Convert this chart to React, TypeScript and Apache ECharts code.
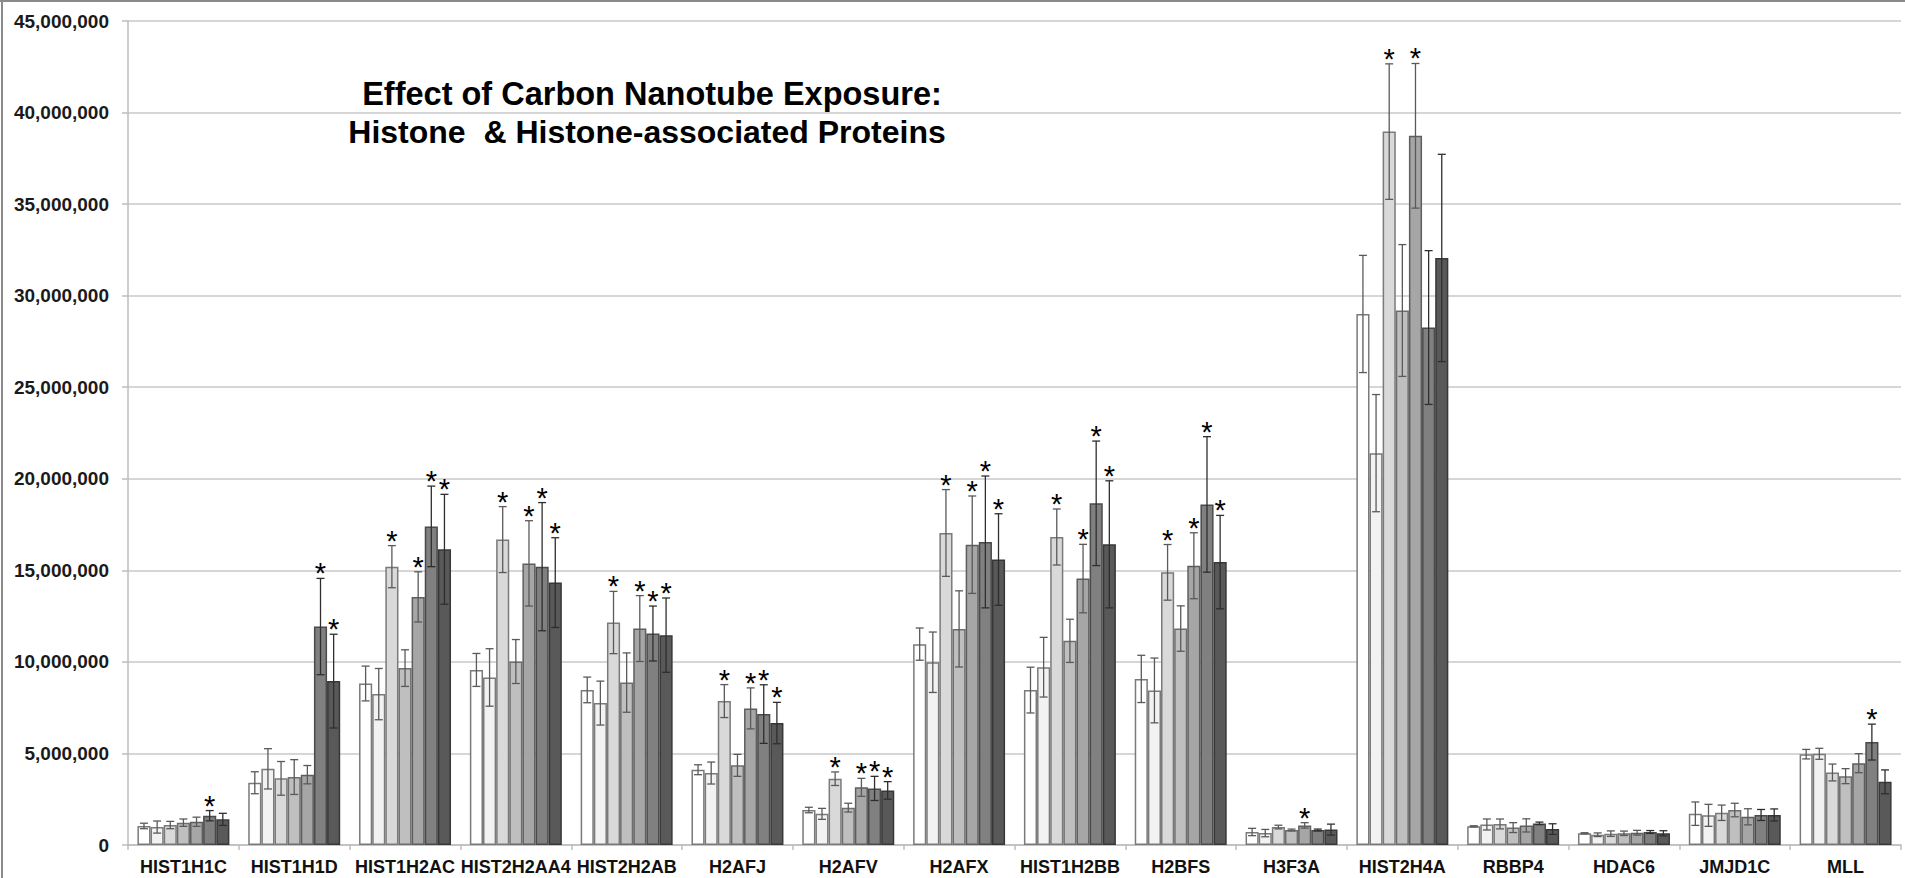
import React, { useEffect, useRef } from "react";
import * as echarts from "echarts";

const categories = [
  "HIST1H1C", "HIST1H1D", "HIST1H2AC", "HIST2H2AA4", "HIST2H2AB", "H2AFJ", "H2AFV", "H2AFX",
  "HIST1H2BB", "H2BFS", "H3F3A", "HIST2H4A", "RBBP4", "HDAC6", "JMJD1C", "MLL",
];

// values in millions
const s1 = [1.04, 3.4, 8.82, 9.56, 8.47, 4.11, 1.91, 10.97, 8.46, 9.07, 0.71, 29.0, 1.02, 0.64, 1.71, 4.96];
const s2 = [0.98, 4.16, 8.24, 9.15, 7.75, 3.93, 1.7, 9.98, 9.71, 8.44, 0.65, 21.4, 1.12, 0.56, 1.62, 4.98];
const s3 = [1.09, 3.64, 15.2, 16.68, 12.15, 7.86, 3.62, 17.04, 16.82, 14.89, 0.98, 38.96, 1.15, 0.62, 1.76, 3.96];
const s4 = [1.22, 3.71, 9.66, 10.02, 8.87, 4.35, 2.04, 11.8, 11.15, 11.82, 0.82, 29.19, 0.95, 0.64, 1.91, 3.76];
const s5 = [1.27, 3.84, 13.55, 15.38, 11.82, 7.46, 3.15, 16.4, 14.55, 15.25, 1.07, 38.73, 1.07, 0.67, 1.54, 4.47];
const s6 = [1.6, 11.93, 17.4, 15.2, 11.55, 7.15, 3.09, 16.55, 18.66, 18.6, 0.82, 28.26, 1.18, 0.71, 1.64, 5.62];
const s7 = [1.4, 8.95, 16.15, 14.33, 11.46, 6.66, 2.98, 15.59, 16.42, 15.45, 0.84, 32.06, 0.87, 0.64, 1.64, 3.45];

// error bars (± in millions)
const e1 = [0.15, 0.6, 0.95, 0.9, 0.7, 0.27, 0.15, 0.88, 1.25, 1.29, 0.2, 3.2, 0.03, 0.03, 0.64, 0.26];
const e2 = [0.33, 1.1, 1.4, 1.57, 1.2, 0.6, 0.3, 1.65, 1.63, 1.77, 0.2, 3.2, 0.3, 0.1, 0.6, 0.3];
const e3 = [0.2, 0.92, 1.15, 1.8, 1.7, 0.9, 0.37, 2.37, 1.53, 1.52, 0.1, 3.7, 0.27, 0.15, 0.42, 0.46];
const e4 = [0.2, 0.95, 1.0, 1.2, 1.62, 0.6, 0.24, 2.08, 1.18, 1.24, 0.05, 3.6, 0.27, 0.12, 0.37, 0.41];
const e5 = [0.25, 0.5, 1.37, 2.33, 1.8, 1.12, 0.49, 2.66, 1.87, 1.8, 0.15, 3.95, 0.36, 0.13, 0.44, 0.52];
const e6 = [0.28, 2.63, 2.2, 3.5, 1.5, 1.6, 0.66, 3.6, 3.4, 3.7, 0.05, 4.2, 0.07, 0.08, 0.3, 0.98];
const e7 = [0.33, 2.56, 3.0, 2.45, 2.03, 1.13, 0.48, 2.5, 3.47, 2.55, 0.3, 5.66, 0.29, 0.14, 0.33, 0.65];

// category indices marked with an asterisk, per series
const sig1: number[] = [];
const sig2: number[] = [];
const sig3 = [2, 3, 4, 5, 6, 7, 8, 9, 11];
const sig4: number[] = [];
const sig5 = [2, 3, 4, 5, 6, 7, 8, 9, 10, 11];
const sig6 = [0, 1, 2, 3, 4, 5, 6, 7, 8, 9, 15];
const sig7 = [1, 2, 3, 4, 5, 6, 7, 8, 9];

const yTicks = [0, 5e6, 10e6, 15e6, 20e6, 25e6, 30e6, 35e6, 40e6, 45e6];

const MILLION = 1e6;
const seriesValues = [s1, s2, s3, s4, s5, s6, s7];
const seriesErrors = [e1, e2, e3, e4, e5, e6, e7];
const seriesSig = [sig1, sig2, sig3, sig4, sig5, sig6, sig7];
const fills = ["#ffffff", "#f2f2f2", "#d9d9d9", "#bfbfbf", "#a6a6a6", "#808080", "#595959"];
const borders = ["#7a7a7a", "#7a7a7a", "#7a7a7a", "#6e6e6e", "#5e5e5e", "#4a4a4a", "#383838"];
const GAP = 0.17;
const FONT = "'Liberation Sans', Arial, sans-serif";

export default function App() {
  const ref = useRef<HTMLDivElement>(null);
  useEffect(() => {
    if (!ref.current) return;
    const chart = echarts.init(ref.current, null, { renderer: "svg" });
    const n = seriesValues.length;
    const barSeries = seriesValues.map((vals, si) => ({
      type: "bar",
      name: "Group " + (si + 1),
      data: vals.map((v) => v * MILLION),
      barGap: "0%",
      barCategoryGap: GAP * 100 + "%",
      itemStyle: { color: fills[si], borderColor: borders[si], borderWidth: 1.5 },
      z: 2,
    }));
    const errSeries = seriesValues.map((vals, si) => ({
      type: "custom",
      name: "Error " + (si + 1),
      z: 5,
      data: vals.map((v, ci) => [ci, v * MILLION, seriesErrors[si][ci] * MILLION, seriesSig[si].includes(ci) ? 1 : 0]),
      encode: { x: 0, y: 1 },
      renderItem: (params: any, api: any) => {
        const ci = api.value(0);
        const v = api.value(1);
        const e = api.value(2);
        const sig = api.value(3);
        const band = api.size([1, 0])[0];
        const bw = (band * (1 - GAP)) / n;
        const c = api.coord([ci, v]);
        const x = c[0] + (si - (n - 1) / 2) * bw;
        const top = api.coord([ci, v + e])[1];
        const bot = api.coord([ci, Math.max(0, v - e)])[1];
        const cap = 4;
        const st = { stroke: si >= 5 ? "#2e2e2e" : "#5a5a5a", lineWidth: 1.3 };
        const children: any[] = [
          { type: "line", shape: { x1: x, y1: top, x2: x, y2: bot }, style: st },
          { type: "line", shape: { x1: x - cap, y1: top, x2: x + cap, y2: top }, style: st },
          { type: "line", shape: { x1: x - cap, y1: bot, x2: x + cap, y2: bot }, style: st },
        ];
        if (sig) {
          children.push({
            type: "text",
            style: {
              text: "*",
              x: x,
              y: top - 5,
              align: "center",
              verticalAlign: "middle",
              fontSize: 29,
              fontFamily: FONT,
              fill: "#000",
            },
          });
        }
        return { type: "group", children };
      },
    }));

    chart.setOption({
      animation: false,
      backgroundColor: "#ffffff",
      grid: { left: 128, right: 4, top: 21, bottom: 33, containLabel: false },
      xAxis: {
        type: "category",
        data: categories,
        axisLine: { show: true, lineStyle: { color: "#bdbdbd", width: 1.5 } },
        axisTick: { show: true, length: 5, lineStyle: { color: "#bdbdbd", width: 1.5 } },
        axisLabel: { fontSize: 18, fontWeight: "bold", color: "#111", fontFamily: FONT, margin: 13, interval: 0 },
      },
      yAxis: {
        type: "value",
        min: 0,
        max: yTicks[yTicks.length - 1],
        interval: yTicks[1] - yTicks[0],
        axisLine: { show: true, lineStyle: { color: "#bdbdbd", width: 1.5 } },
        axisTick: { show: true, length: 6, lineStyle: { color: "#bdbdbd", width: 1.5 } },
        splitLine: { show: true, lineStyle: { color: "#c8c8c8", width: 1.5 } },
        axisLabel: {
          fontSize: 19,
          fontWeight: "bold",
          color: "#1a1a1a",
          fontFamily: FONT,
          margin: 19,
          formatter: (v: number) => v.toLocaleString("en-US"),
        },
      },
      graphic: [
        { type: "line", shape: { x1: 2, y1: 0, x2: 2, y2: 878 }, style: { stroke: "#8a8a8a", lineWidth: 2 }, z: 10 },
        { type: "line", shape: { x1: 0, y1: 1, x2: 1905, y2: 1 }, style: { stroke: "#8a8a8a", lineWidth: 2 }, z: 10 },
        {
          type: "text",
          x: 652,
          y: 94,
          style: {
            text: "Effect of Carbon Nanotube Exposure:",
            align: "center",
            verticalAlign: "middle",
            fontSize: 32.5,
            fontWeight: "bold",
            fontFamily: FONT,
            fill: "#000",
          },
          z: 10,
        },
        {
          type: "text",
          x: 647,
          y: 132,
          style: {
            text: "Histone  & Histone-associated Proteins",
            align: "center",
            verticalAlign: "middle",
            fontSize: 32,
            fontWeight: "bold",
            fontFamily: FONT,
            fill: "#000",
          },
          z: 10,
        },
      ],
      series: [...barSeries, ...errSeries],
    });
    return () => chart.dispose();
  }, []);
  return (
    <div
      ref={ref}
      style={{ position: "absolute", left: 0, top: 0, width: 1905, height: 878 }}
    />
  );
}
